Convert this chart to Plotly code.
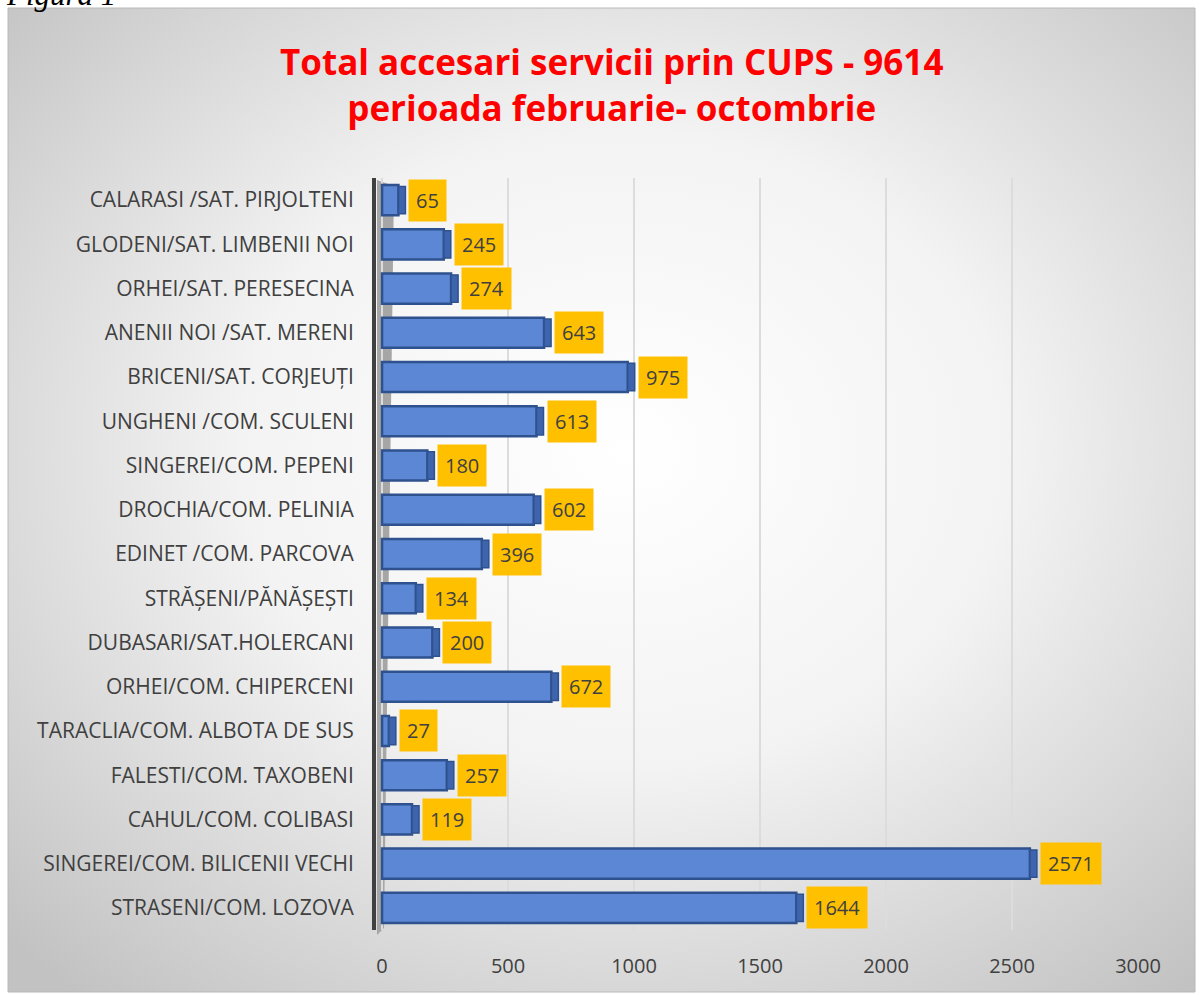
import base64
import plotly.graph_objects as go

categories = [
    "CALARASI /SAT. PIRJOLTENI",
    "GLODENI/SAT. LIMBENII NOI",
    "ORHEI/SAT. PERESECINA",
    "ANENII NOI /SAT. MERENI",
    "BRICENI/SAT. CORJEUȚI",
    "UNGHENI /COM. SCULENI",
    "SINGEREI/COM. PEPENI",
    "DROCHIA/COM. PELINIA",
    "EDINET /COM. PARCOVA",
    "STRĂȘENI/PĂNĂȘEȘTI",
    "DUBASARI/SAT.HOLERCANI",
    "ORHEI/COM. CHIPERCENI",
    "TARACLIA/COM. ALBOTA DE SUS",
    "FALESTI/COM. TAXOBENI",
    "CAHUL/COM. COLIBASI",
    "SINGEREI/COM. BILICENII VECHI",
    "STRASENI/COM. LOZOVA",
]
values = [65, 245, 274, 643, 975, 613, 180, 602, 396, 134, 200, 672, 27, 257, 119, 2571, 1644]
x_ticks = [0, 500, 1000, 1500, 2000, 2500, 3000]
title_lines = ["Total accesari servicii prin CUPS - 9614", "perioada februarie- octombrie"]
caption = "Figura 1"

W, H = 1200, 995
L, R, T, B = 376, 62, 178, 65
pw, ph = W - L - R, H - T - B
X_MIN, X_MAX = -24, 3000
units_per_px = (X_MAX - X_MIN) / pw
depth = 7 * units_per_px  # right-side face of the 3D bars

def px2paper_x(px):
    return (px - L) / pw

def px2paper_y(py):
    return (H - B - py) / ph

fig = go.Figure()
fig.add_trace(go.Bar(
    y=categories, x=values, orientation="h",
    marker=dict(color="#5B87D4", line=dict(color="#2F528F", width=2.5)),
    width=0.68, hoverinfo="x+y",
))
fig.add_trace(go.Bar(
    y=categories, x=[depth] * len(values), base=values, orientation="h",
    marker=dict(color="#3E64AE", line=dict(color="#2F528F", width=1.5)),
    width=0.62, hoverinfo="skip",
))

annotations = []
for c, v in zip(categories, values):
    annotations.append(dict(
        x=v, y=c, xref="x", yref="y", text=str(v), showarrow=False,
        xanchor="left", yanchor="middle", xshift=10,
        bgcolor="#FFC000", borderpad=7,
        font=dict(family="Open Sans, sans-serif", size=20, color="#404040"),
    ))

annotations.append(dict(
    x=px2paper_x(611), y=px2paper_y(84), xref="paper", yref="paper",
    text="<b>" + title_lines[0] + "<br>" + title_lines[1] + "</b>",
    showarrow=False, xanchor="center", yanchor="middle", align="center",
    font=dict(family="Open Sans, sans-serif", size=35, color="#FF0000"),
))
annotations.append(dict(
    x=px2paper_x(4), y=px2paper_y(14), xref="paper", yref="paper",
    text=caption, showarrow=False, xanchor="left", yanchor="bottom",
    font=dict(family="Liberation Serif, serif", size=31, color="#000000", style="italic"),
))

svg = """<svg xmlns='http://www.w3.org/2000/svg' width='1187' height='984' viewBox='0 0 1187 984' preserveAspectRatio='none'>
<defs><radialGradient id='g' cx='52%' cy='45%' r='72%'>
<stop offset='0' stop-color='#ffffff'/>
<stop offset='0.45' stop-color='#f3f3f3'/>
<stop offset='1' stop-color='#c2c2c2'/>
</radialGradient></defs>
<rect x='0' y='0' width='1187' height='984' fill='url(#g)'/>
</svg>"""
src = "data:image/svg+xml;base64," + base64.b64encode(svg.encode()).decode()

x0p, x1p = px2paper_x(8), px2paper_x(1195)
y0p, y1p = px2paper_y(8), px2paper_y(992)

wall = "M {} {} L {} {} L {} {} L {} {} Z".format(
    px2paper_x(377), px2paper_y(180), px2paper_x(394), px2paper_y(186),
    px2paper_x(384), px2paper_y(928), px2paper_x(377), px2paper_y(935))

fig.update_layout(
    width=W, height=H,
    margin=dict(l=L, r=R, t=T, b=B),
    paper_bgcolor="white", plot_bgcolor="rgba(0,0,0,0)",
    showlegend=False, barmode="overlay",
    images=[dict(source=src, xref="paper", yref="paper", x=x0p, y=y0p,
                 sizex=x1p - x0p, sizey=y0p - y1p, xanchor="left", yanchor="top",
                 sizing="stretch", layer="below")],
    shapes=[
        dict(type="rect", xref="paper", yref="paper", x0=x0p, x1=x1p, y0=y1p, y1=y0p,
             line=dict(color="#b8b8b8", width=1), fillcolor="rgba(0,0,0,0)", layer="below"),
        dict(type="path", xref="paper", yref="paper", path=wall,
             line=dict(width=0), fillcolor="#a6a6a6", layer="below"),
    ],
    annotations=annotations,
    xaxis=dict(
        range=[X_MIN, X_MAX], tickvals=x_ticks, ticktext=[str(t) for t in x_ticks],
        showgrid=True, gridcolor="#dcdcdc", gridwidth=1.5, zeroline=False,
        showline=False, ticks="", ticklabelstandoff=22,
        tickfont=dict(family="Open Sans, sans-serif", size=20, color="#404040"),
        fixedrange=True,
    ),
    yaxis=dict(
        categoryorder="array", categoryarray=categories[::-1],
        range=[-0.5, len(categories) - 0.5],
        showline=True, linecolor="#404040", linewidth=4,
        showgrid=False, zeroline=False, ticks="", ticklabelstandoff=14,
        tickfont=dict(family="Open Sans, sans-serif", size=21, color="#404040"),
        fixedrange=True,
    ),
)

fig.write_html("out.html", config={"displayModeBar": False},
               post_script="document.body.style.margin='0';")
